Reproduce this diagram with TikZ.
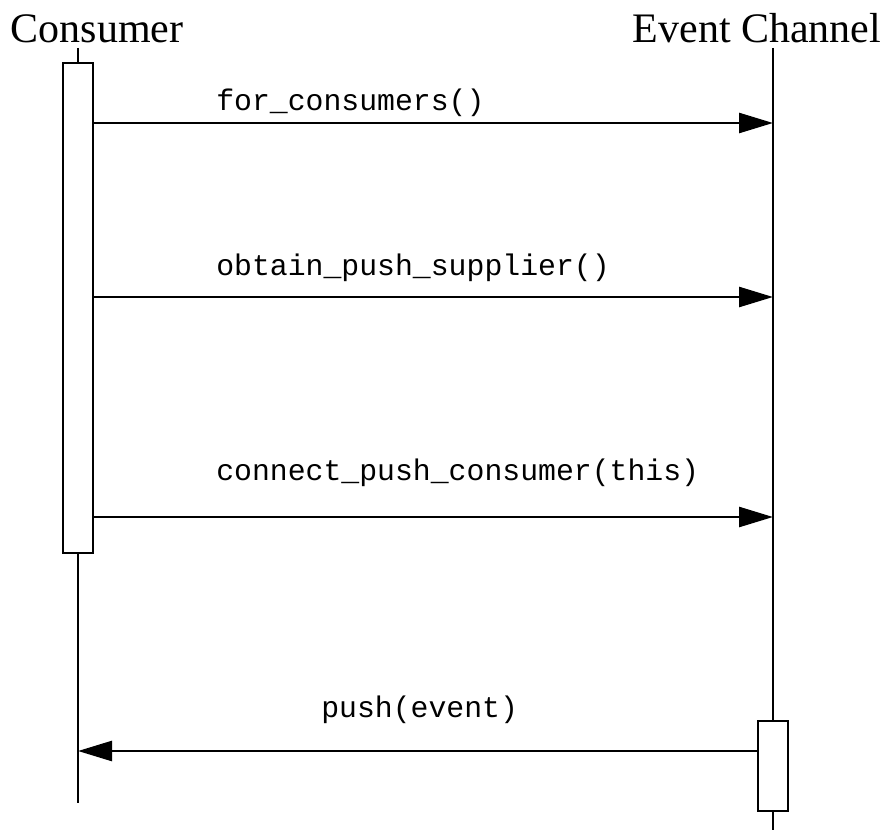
\documentclass[tikz,border=0pt]{standalone}
\usepackage{fontspec}
\setmainfont{Liberation Serif}
\setmonofont{Liberation Mono}
\usetikzlibrary{arrows.meta}

\begin{document}
\begin{tikzpicture}[x=1pt,y=-1pt,line width=2.6pt,
  msg/.style={-{Triangle[length=34pt,width=20pt]}},
  act/.style={draw,fill=white,minimum width=30pt,inner sep=0pt},
  lbl/.style={anchor=base west,inner sep=0pt,font=\fontsize{29.8}{32}\selectfont\ttfamily},
  actor/.style={anchor=base,inner sep=0pt,font=\fontsize{42}{44}\selectfont}]
\useasboundingbox (0,0) rectangle (880,837);
\node[actor] (cons) at (97,43) {Consumer};
\node[actor] (chan) at (757,43) {Event Channel};
\coordinate (consTop) at (78,48); \coordinate (consBot) at (78,803);
\coordinate (chanTop) at (773,48); \coordinate (chanBot) at (773,830);
\draw (consTop) -- (consBot); \draw (chanTop) -- (chanBot);
\node[act,minimum height=490pt] (consAct) at (78,308) {};
\node[act,minimum height=90pt] (chanAct) at (773,766) {};
\foreach \y/\b/\txt in {123/111/for\_consumers(),297/275/obtain\_push\_supplier(),517/480/connect\_push\_consumer(this)}{
  \draw[msg] (consAct.east |- 0,\y) -- (chanTop |- 0,\y);
  \node[lbl] at (215,\b) {\txt};}
\draw[msg] (chanAct.west |- 0,751) -- (consTop |- 0,751);
\node[lbl] (pushLbl) at (320,717) {push(event)};
\end{tikzpicture}
\end{document}
